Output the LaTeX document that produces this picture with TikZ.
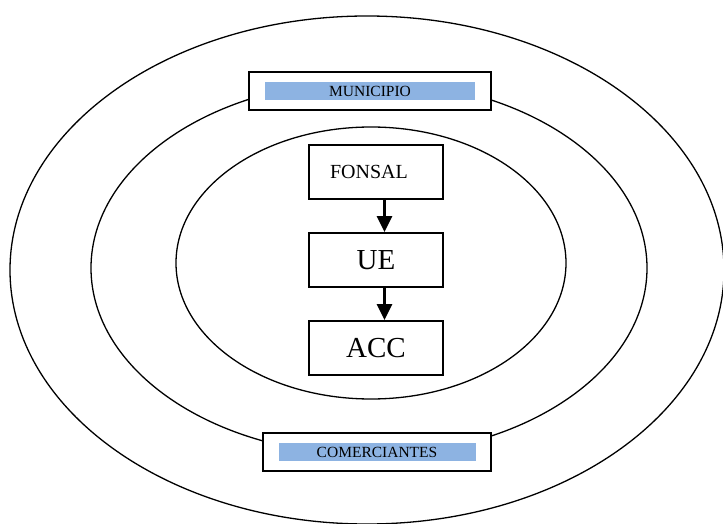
\documentclass[tikz,border=0pt]{standalone}
\usepackage{fontspec}
\setmainfont{Liberation Serif}
\usetikzlibrary{positioning,arrows.meta}
\definecolor{bandblue}{RGB}{141,179,226}

\begin{document}
\begin{tikzpicture}[x=1pt,y=-1pt,node distance=32.2pt,
  ring/.style={line width=1.3pt},
  box/.style={draw,line width=1.8pt,minimum width=134pt,minimum height=54pt,inner sep=0pt},
  frame/.style={draw,fill=white,line width=1.8pt,inner sep=0pt,minimum height=38pt},
  band/.style={fill=bandblue,inner sep=0pt,minimum height=18pt,font=\fontsize{15.5}{16}\selectfont},
  arr/.style={line width=2.8pt,-{Triangle[length=16pt,width=15pt]}}]
\useasboundingbox (0,0) rectangle (723,524);
\clip (0,0) rectangle (723,524);
% rings
\draw[ring] (367,270) ellipse [x radius=357pt, y radius=254pt];
\draw[ring] (369,268) ellipse [x radius=278pt, y radius=187pt];
\draw[ring] (371,263) ellipse [x radius=195pt, y radius=136pt];
% inner chain
\node[box,text width=92pt,inner xsep=21pt,align=left,font=\fontsize{20}{24}\selectfont] (fonsal) at (376,172) {FONSAL};
\node[box,below=of fonsal,font=\fontsize{29}{32}\selectfont] (ue) {UE};
\node[box,below=of ue,font=\fontsize{29}{32}\selectfont] (acc) {ACC};
\draw[arr] ([xshift=8.5pt]fonsal.south) -- ([xshift=8.5pt]ue.north);
\draw[arr] ([xshift=8.5pt]ue.south) -- ([xshift=8.5pt]acc.north);
% labels on the rings
\node[frame,minimum width=242pt] (municipio) at (370,91) {};
\node[band,minimum width=210pt] (munband) at (municipio) {MUNICIPIO};
\node[frame,minimum width=228pt] (comerciantes) at (377,452) {};
\node[band,minimum width=197pt] (comband) at (comerciantes) {COMERCIANTES};
\end{tikzpicture}
\end{document}
